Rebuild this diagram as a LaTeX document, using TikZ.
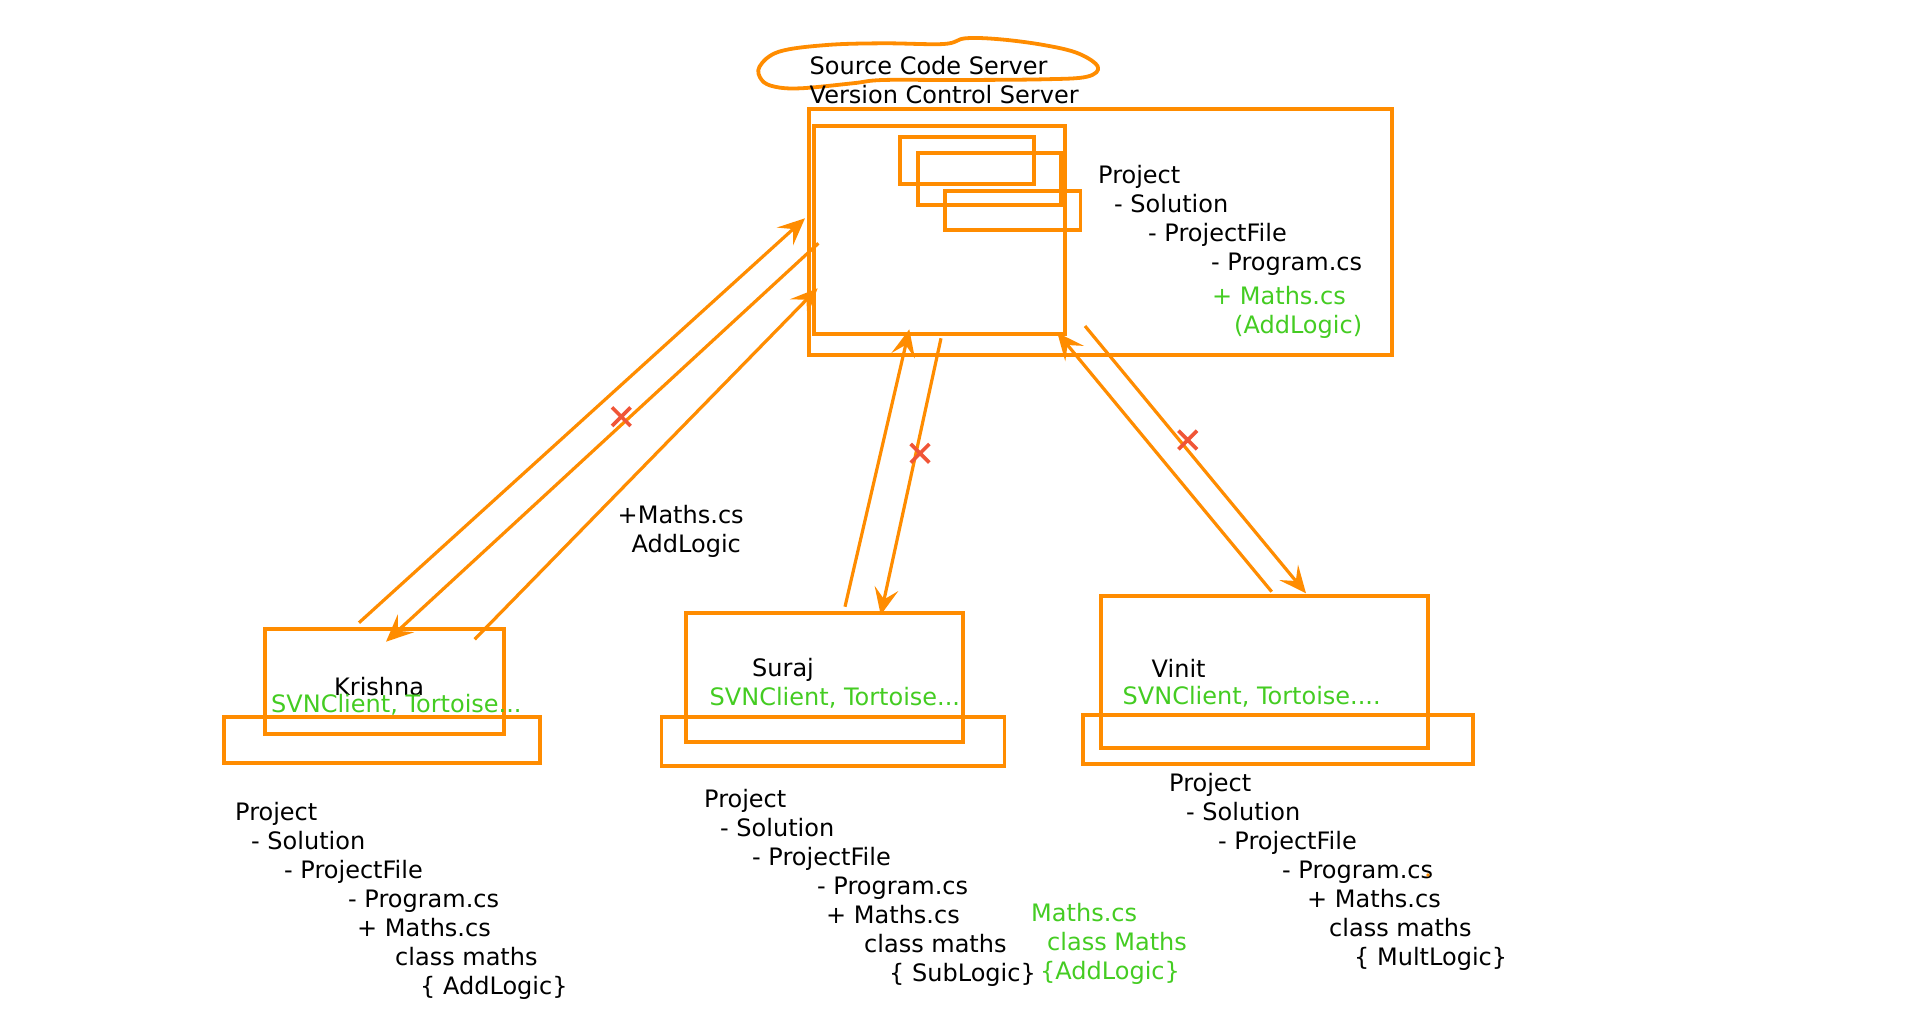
\documentclass[tikz,border=0pt]{standalone}
\usepackage{fontspec}
\setmainfont{DejaVu Sans}
\usepackage{tikz}
\usetikzlibrary{arrows.meta,shapes.misc}

\definecolor{svnorange}{RGB}{255,140,0}
\definecolor{svngreen}{RGB}{68,204,34}
\definecolor{svnred}{RGB}{240,85,55}

\tikzset{
  txt/.style={inner sep=0pt, font=\fontsize{24}{29}\selectfont},
  tree/.style={txt, align=left, anchor=north west},
  boxnode/.style={draw=svnorange, line width=3.8pt, inner sep=0pt},
  flow/.style={draw=svnorange, line width=3.2pt, -{Stealth[length=27pt,width=24pt,inset=11pt]}},
  blocked/.style={draw=svnred, line width=3.6pt, cross out, inner sep=0pt, minimum size=15pt}
}

\begin{document}
\begin{tikzpicture}[x=1pt,y=-1pt]
        \useasboundingbox (0,0) rectangle (1920,1017);

        % server
        \draw[svnorange, line width=3.8pt] plot[smooth cycle, tension=0.6] coordinates {(759.5,66.7) (779,51.7) (826.7,45) (883,43.3) (943.8,44) (965.5,38.3) (1000,39.3) (1043.6,45) (1078,53.3) (1097.8,66.7) (1087,76.7) (1043.6,79.3) (956.8,80) (883,80) (852.7,83.3) (800.7,88.3) (774.7,86.7) (761.7,80)};
        \node[tree] (servername) at (809.5,54.4) {\strut Source Code Server\\Version Control Server};

        \node[boxnode, minimum width=583pt, minimum height=246pt] (server) at (1100.2,232) {};
        \node[boxnode, minimum width=251.5pt, minimum height=208.3pt] (repo) at (939.5,230.2) {};
        \node[boxnode, minimum width=134pt, minimum height=47.3pt] (rev1) at (966.6,160.4) {};
        \node[boxnode, minimum width=143pt, minimum height=52.3pt] (rev2) at (989.4,178.9) {};
        \node[boxnode, minimum width=135.7pt, minimum height=39.3pt] (rev3) at (1012.6,210.4) {};

        \node[tree] (servertree) at (1098,162.7) {\strut Project\\
        \hspace*{16pt}- Solution\\
        \hspace*{50pt}- ProjectFile\\
        \hspace*{113pt}- Program.cs};
        \node[tree, text=svngreen] (serveradd) at (1212,284.4) {\strut + Maths.cs\\
        \hspace*{22pt}(AddLogic)};

        % clients
        \node[boxnode, minimum width=239pt, minimum height=105pt] (krishna) at (384.5,681.5) {};
        \node[boxnode, minimum width=316pt, minimum height=46pt] (krishnabase) at (382,740) {};
        \node[txt, anchor=base west] (krishnaname) at (334,695) {Krishna};
        \node[txt, anchor=base west, text=svngreen] (krishnasvn) at (271,712) {SVNClient, Tortoise...};

        \node[boxnode, minimum width=277.5pt, minimum height=128.4pt] (suraj) at (824.5,677.5) {};
        \node[boxnode, minimum width=343pt, minimum height=48.4pt] (surajbase) at (832.9,741.5) {};
        \node[txt, anchor=base west] (surajname) at (752,676.3) {Suraj};
        \node[txt, anchor=base west, text=svngreen] (surajsvn) at (709.5,705.3) {SVNClient, Tortoise...};

        \node[boxnode, minimum width=327.6pt, minimum height=152pt] (vinit) at (1264.5,671.7) {};
        \node[boxnode, minimum width=390pt, minimum height=49.3pt] (vinitbase) at (1277.7,739.7) {};
        \node[txt, anchor=base west] (vinitname) at (1151.5,677.3) {Vinit};
        \node[txt, anchor=base west, text=svngreen] (vinitsvn) at (1122.5,704.7) {SVNClient, Tortoise....};

        \node[tree] (krishnatree) at (235,799.7) {\strut Project\\
        \hspace*{16pt}- Solution\\
        \hspace*{49pt}- ProjectFile\\
        \hspace*{113pt}- Program.cs\\
        \hspace*{122pt}+ Maths.cs\\
        \hspace*{160pt}class maths\\
        \hspace*{185pt}\{ AddLogic\}};

        \node[tree] (surajtree) at (704,787) {\strut Project\\
        \hspace*{16pt}- Solution\\
        \hspace*{48pt}- ProjectFile\\
        \hspace*{113pt}- Program.cs\\
        \hspace*{122pt}+ Maths.cs\\
        \hspace*{160pt}class maths\\
        \hspace*{185pt}\{ SubLogic\}};
        \node[tree, text=svngreen] (surajadd) at (1031,901) {\strut Maths.cs\\
        \hspace*{16pt}class Maths\\
        \hspace*{9pt}\{AddLogic\}};

        \node[tree] (vinittree) at (1169,771) {\strut Project\\
        \hspace*{17pt}- Solution\\
        \hspace*{49pt}- ProjectFile\\
        \hspace*{113pt}- Program.cs\\
        \hspace*{138pt}+ Maths.cs\\
        \hspace*{160pt}class maths\\
        \hspace*{185pt}\{ MultLogic\}};
        \fill[svnorange] (1428,875) circle (1.8pt);

        % commits and updates
        \coordinate (k1s) at (359,622.7);
        \coordinate (k1e) at (805,218.3);
        \coordinate (k2s) at (818.4,243.3);
        \coordinate (k2e) at (386,641.7);
        \coordinate (k3s) at (474.7,639.3);
        \coordinate (k3e) at (817.6,288.3);
        \coordinate (s1s) at (845,606.7);
        \coordinate (s1e) at (909.3,329.3);
        \coordinate (s2s) at (941,338.3);
        \coordinate (s2e) at (880.7,615);
        \coordinate (v1s) at (1271.7,591.7);
        \coordinate (v1e) at (1057.3,332.7);
        \coordinate (v2s) at (1085,326);
        \coordinate (v2e) at (1306,593.3);

        \draw[flow] (k1s) -- (k1e);
        \draw[flow] (k2s) -- (k2e);
        \draw[flow] (k3s) -- (k3e);
        \draw[flow] (s1s) -- (s1e);
        \draw[flow] (s2s) -- (s2e);
        \draw[flow] (v1s) -- (v1e);
        \draw[flow] (v2s) -- (v2e);

        \node[blocked] (kx) at (621.3,416.7) {};
        \node[blocked] (sx) at (920,453.3) {};
        \node[blocked] (vx) at (1187.7,440) {};

        \node[tree] (commitnote) at (617.5,502.7) {\strut +Maths.cs\\
        \hspace*{14pt}AddLogic};

\end{tikzpicture}
\end{document}
